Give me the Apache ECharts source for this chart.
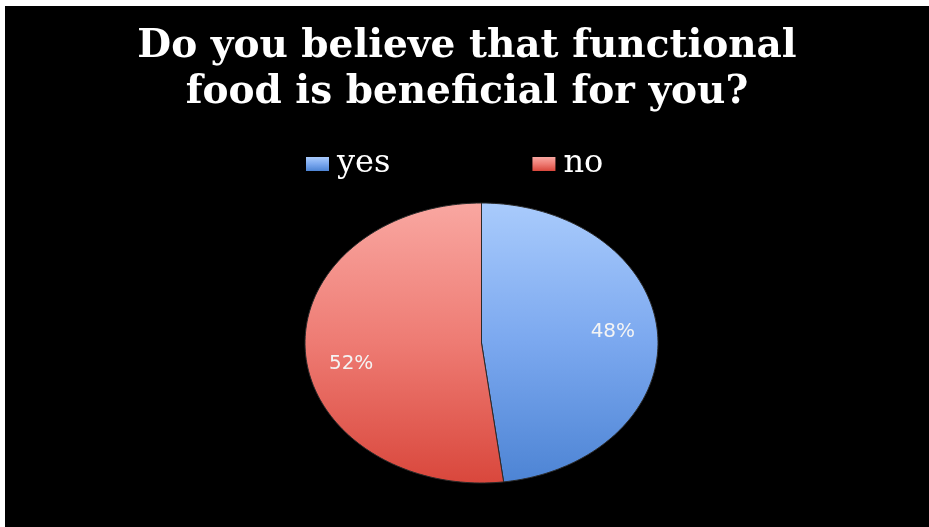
<!DOCTYPE html>
<html>
<head>
<meta charset="utf-8">
<script src="https://cdn.jsdelivr.net/npm/echarts@6/dist/echarts.min.js"></script>
<style>
  html, body { margin: 0; padding: 0; background: #ffffff; }
  #chart { position: absolute; left: 5px; top: 6px; width: 924px; height: 521px; background: #000000; }
</style>
</head>
<body>
<div id="chart"></div>
<script>
// Survey answers and their shares (percent)
const categories = ['yes', 'no'];
const shares = [48, 52];

const titleText = 'Do you believe that functional\nfood is beneficial for you?';

// Slice gradients (top -> bottom)
const sliceColors = {
  yes: ['#a9cbfc', '#7ba8ef', '#4d84d4'],
  no: ['#f9a7a1', '#ee7b73', '#d9473c']
};
// Label nudges so the percentages sit where they read best
const labelNudge = { yes: [1, -5], no: [0, 14] };

const total = shares.reduce((s, v) => s + v, 0);

function gradient(stops) {
  return new echarts.graphic.LinearGradient(0, 0, 0, 1, [
    { offset: 0, color: stops[0] },
    { offset: 0.5, color: stops[1] },
    { offset: 1, color: stops[2] }
  ]);
}

const chart = echarts.init(document.getElementById('chart'));

// Elliptical pie: each category is its own custom series so the legend lists it
function makeSeries(idx) {
  const name = categories[idx];
  return {
    type: 'custom',
    name: name,
    coordinateSystem: 'none',
    itemStyle: { color: gradient(sliceColors[name]) },
    data: [shares[idx]],
    renderItem: function (params, api) {
      const cx = 476.5, cy = 337, A = 176.5, B = 140;
      let before = 0;
      for (let i = 0; i < idx; i++) before += shares[i];
      const v = api.value(0);
      const a0 = before / total * Math.PI * 2;
      const a1 = (before + v) / total * Math.PI * 2;
      const pts = [[cx, cy]];
      const steps = 120;
      for (let k = 0; k <= steps; k++) {
        const t = a0 + (a1 - a0) * k / steps;
        pts.push([cx + A * Math.sin(t), cy - B * Math.cos(t)]);
      }
      const mid = (a0 + a1) / 2;
      const nudge = labelNudge[name];
      const lx = cx + 0.74 * A * Math.sin(mid) + nudge[0];
      const ly = cy - 0.74 * B * Math.cos(mid) + nudge[1];
      return {
        type: 'group',
        children: [
          {
            type: 'polygon',
            shape: { points: pts },
            style: { fill: gradient(sliceColors[name]), stroke: '#2a2a2a', lineWidth: 1 }
          },
          {
            type: 'text',
            style: {
              x: lx, y: ly,
              text: Math.round(v / total * 100) + '%',
              fill: '#f4f4f4',
              font: '20px "DejaVu Sans"',
              align: 'center',
              verticalAlign: 'middle'
            }
          }
        ]
      };
    }
  };
}

chart.setOption({
  backgroundColor: '#000000',
  animation: false,
  title: {
    text: titleText,
    left: 'center',
    top: 13,
    textStyle: {
      color: '#ffffff',
      fontFamily: '"DejaVu Serif"',
      fontWeight: 'bold',
      fontSize: 39,
      lineHeight: 46
    }
  },
  legend: {
    data: categories,
    left: 296,
    top: 137,
    icon: 'rect',
    itemWidth: 23,
    itemHeight: 14,
    itemGap: 142,
    itemStyle: { borderWidth: 0 },
    textStyle: {
      color: '#ffffff',
      fontFamily: '"DejaVu Serif"',
      fontSize: 32,
      padding: [0, 0, 0, 3]
    }
  },
  series: categories.map((c, i) => makeSeries(i))
});
</script>
</body>
</html>
